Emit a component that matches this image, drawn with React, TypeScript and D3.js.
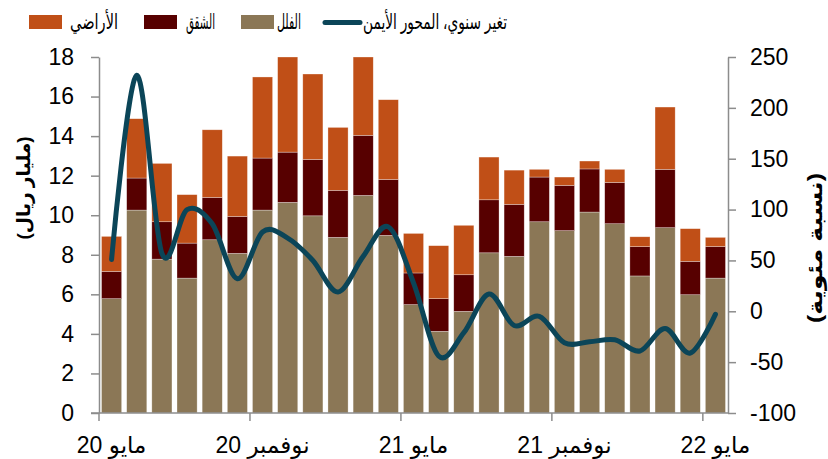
import React from "react";
import * as d3 from "d3";

// months from May 2020 to May 2022
const months = [
  "مايو 20", "يونيو 20", "يوليو 20", "أغسطس 20", "سبتمبر 20", "أكتوبر 20",
  "نوفمبر 20", "ديسمبر 20", "يناير 21", "فبراير 21", "مارس 21", "أبريل 21",
  "مايو 21", "يونيو 21", "يوليو 21", "أغسطس 21", "سبتمبر 21", "أكتوبر 21",
  "نوفمبر 21", "ديسمبر 21", "يناير 22", "فبراير 22", "مارس 22", "أبريل 22",
  "مايو 22",
];
const tickMonths = ["مايو 20", "نوفمبر 20", "مايو 21", "نوفمبر 21", "مايو 22"];

// SAR billion
const villas = [5.78, 10.26, 7.78, 6.82, 8.76, 8.07, 10.26, 10.65, 9.97, 8.88, 11.0, 8.98,
  5.48, 4.13, 5.14, 8.1, 7.92, 9.67, 9.22, 10.16, 9.57, 6.93, 9.37, 5.98, 6.82];
const apartments = [1.38, 1.62, 1.89, 1.77, 2.14, 1.87, 2.63, 2.54, 2.85, 2.38, 3.04, 2.83,
  1.6, 1.65, 1.85, 2.68, 2.63, 2.26, 2.29, 2.18, 2.09, 1.48, 2.95, 1.69, 1.6];
const lands = [1.77, 3.0, 2.95, 2.45, 3.42, 3.05, 4.1, 4.81, 4.32, 3.18, 3.96, 4.03,
  2.0, 2.68, 2.5, 2.16, 1.73, 0.39, 0.42, 0.4, 0.66, 0.5, 3.15, 1.65, 0.46];
// annual change, % (right axis)
const yoy = [51, 232, 57, 100, 86, 32, 78, 72, 50, 19, 54, 83,
  28, -44, -21, 17, -14, -5, -31, -30, -28, -39, -17, -41, -3];

const leftTicks = [0, 2, 4, 6, 8, 10, 12, 14, 16, 18];
const rightTicks = [-100, -50, 0, 50, 100, 150, 200, 250];

const COLORS = { villas: "#8B7756", apartments: "#570000", lands: "#C04F17", line: "#0B4558" };
const FONT = "'Liberation Sans', Arial, 'DejaVu Sans', sans-serif";

function App() {
  const svgRef = React.useRef(null);
  const width = 828;
  const height = 459;
  const margin = { top: 57, right: 100, bottom: 46, left: 99 };

  React.useEffect(() => {
    const svg = d3.select(svgRef.current);
    svg.selectAll("*").remove();

    const x = d3.scaleBand()
      .domain(months)
      .range([margin.left, width - margin.right])
      .paddingInner(0.2)
      .paddingOuter(0.1);
    const yL = d3.scaleLinear().domain([0, 18]).range([height - margin.bottom, margin.top]);
    const yR = d3.scaleLinear().domain([-100, 250]).range([height - margin.bottom, margin.top]);

    const rows = months.map((m, i) => ({ m, villas: villas[i], apartments: apartments[i], lands: lands[i] }));
    const stack = d3.stack().keys(["villas", "apartments", "lands"])(rows);

    const g = svg.append("g");
    stack.forEach(layer => {
      g.append("g")
        .attr("fill", COLORS[layer.key])
        .selectAll("rect")
        .data(layer)
        .join("rect")
        .attr("x", d => x(d.data.m))
        .attr("width", x.bandwidth())
        .attr("y", d => yL(d[1]))
        .attr("height", d => yL(d[0]) - yL(d[1]))
        .attr("stroke", "#fff")
        .attr("stroke-opacity", 0.5)
        .attr("stroke-width", 0.6);
    });

    // axes
    const axisColor = "#8c8c8c";
    const styleAxis = sel => {
      sel.select(".domain").attr("stroke", axisColor).attr("stroke-width", 1.5);
      sel.selectAll(".tick line").attr("stroke", axisColor).attr("stroke-width", 1.5);
      sel.selectAll("text").attr("fill", "#000").style("font-family", FONT).style("font-size", "23px");
    };

    svg.append("g")
      .attr("transform", `translate(${margin.left},0)`)
      .call(d3.axisLeft(yL).tickValues(leftTicks).tickSize(8).tickPadding(17).tickSizeOuter(0))
      .call(styleAxis);

    svg.append("g")
      .attr("transform", `translate(${width - margin.right},0)`)
      .call(d3.axisRight(yR).tickValues(rightTicks).tickSize(8).tickPadding(14).tickSizeOuter(0).tickFormat(d3.format("d")))
      .call(styleAxis)
      .selectAll("text").text(d => String(d));

    const step = x.step();
    const half = x.paddingInner() * step / 2;
    const xAxis = svg.append("g").attr("transform", `translate(0,${height - margin.bottom})`);
    xAxis.append("line")
      .attr("x1", margin.left - 8).attr("x2", width - margin.right)
      .attr("stroke", axisColor).attr("stroke-width", 1.5);
    xAxis.selectAll("line.tk")
      .data(tickMonths)
      .join("line")
      .attr("class", "tk")
      .attr("x1", d => x(d) - half).attr("x2", d => x(d) - half)
      .attr("y1", 0).attr("y2", 8)
      .attr("stroke", axisColor).attr("stroke-width", 1.5);
    xAxis.selectAll("text")
      .data(tickMonths)
      .join("text")
      .attr("x", d => x(d) + x.bandwidth() / 2)
      .attr("y", 40)
      .attr("direction", "rtl")
      .attr("text-anchor", "middle")
      .style("font-family", FONT)
      .style("font-size", "23px")
      .text(d => d);

    // yoy line
    const line = d3.line()
      .x((d, i) => x(months[i]) + x.bandwidth() / 2)
      .y(d => yR(d))
      .curve(d3.curveCardinal.tension(0));
    svg.append("path")
      .datum(yoy)
      .attr("fill", "none")
      .attr("stroke", COLORS.line)
      .attr("stroke-width", 5)
      .attr("stroke-linecap", "round")
      .attr("d", line);

    // axis titles
    svg.append("text")
      .attr("transform", "translate(30,188) rotate(-90)")
      .attr("text-anchor", "middle")
      .attr("direction", "rtl")
      .attr("textLength", 103)
      .attr("lengthAdjust", "spacingAndGlyphs")
      .style("font-family", FONT)
      .style("font-weight", "bold")
      .style("font-size", "19px")
      .text("(مليار ريال)");
    svg.append("text")
      .attr("transform", "translate(822,248) rotate(-90)")
      .attr("text-anchor", "middle")
      .attr("direction", "rtl")
      .attr("textLength", 150)
      .attr("lengthAdjust", "spacingAndGlyphs")
      .style("font-family", FONT)
      .style("font-weight", "bold")
      .style("font-size", "20px")
      .text("(نسبة مئوية)");

    // legend
    const legend = svg.append("g").style("font-family", FONT).style("font-size", "21px");
    const items = [
      { label: "تغير سنوي، المحور الأيمن", type: "line", color: COLORS.line, textEnd: 507, w: 144, sx: 325 },
      { label: "الفلل", type: "rect", color: COLORS.villas, textEnd: 301, w: 24, sx: 241 },
      { label: "الشقق", type: "rect", color: COLORS.apartments, textEnd: 215, w: 29, sx: 144 },
      { label: "الأراضي", type: "rect", color: COLORS.lands, textEnd: 118, w: 48, sx: 29 },
    ];
    items.forEach(it => {
      if (it.type === "line") {
        legend.append("line")
          .attr("x1", it.sx).attr("x2", it.sx + 35)
          .attr("y1", 22.5).attr("y2", 22.5)
          .attr("stroke", it.color).attr("stroke-width", 5).attr("stroke-linecap", "round");
      } else {
        legend.append("rect")
          .attr("x", it.sx).attr("y", 15)
          .attr("width", 33).attr("height", 14)
          .attr("fill", it.color);
      }
      legend.append("text")
        .attr("x", it.textEnd - it.w).attr("y", 29)
        .attr("textLength", it.w)
        .attr("lengthAdjust", "spacingAndGlyphs")
        .text(it.label);
    });
  }, []);

  return (
    <svg ref={svgRef} width={width} height={height}
      style={{ position: "absolute", left: 0, top: 0, background: "#fff" }} />
  );
}

export default App;
